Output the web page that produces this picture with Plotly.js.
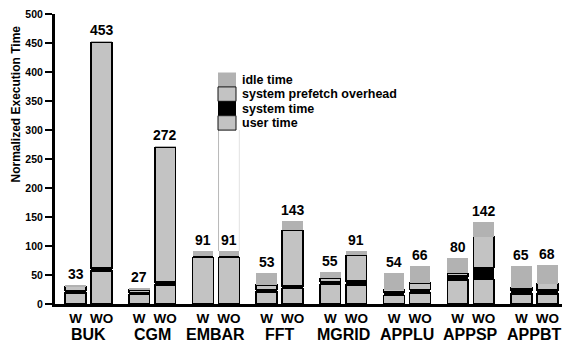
<!DOCTYPE html>
<html>
<head>
<meta charset="utf-8">
<script src="https://cdn.plot.ly/plotly-3.0.1.min.js"></script>
<style>html,body{margin:0;padding:0;background:#fff;}#chart{width:566px;height:343px;}</style>
</head>
<body>
<div id="chart"></div>
<script>
// ---- data ----
const groups = ["BUK","CGM","EMBAR","FFT","MGRID","APPLU","APPSP","APPBT"];
const variants = ["W","WO"];
// per bar, ordered BUK-W, BUK-WO, CGM-W, CGM-WO, ...
const userTime     = [19, 57, 16, 33, 80, 80, 21, 27, 34, 33, 15, 19, 41, 42, 17, 17];
const systemTime   = [ 4,  5,  4,  5,  2,  2,  4,  4,  5,  7,  6,  6,  7, 21,  7,  7];
const prefetchOver = [ 7,389,  4,232,  0,  0,  8, 96,  5, 44,  4, 11,  5, 53,  4, 11];
const idleTime     = [ 3,  2,  3,  2,  9,  9, 20, 16, 11,  7, 29, 30, 27, 26, 37, 33];
const totals       = [33,453, 27,272, 91, 91, 53,143, 55, 91, 54, 66, 80,142, 65, 68];

// ---- layout geometry ----
const GROUP_STEP = 2.45, BAR_W = 0.8;
const xs = [], tickText = [];
groups.forEach((g,i)=>variants.forEach((v,j)=>{ xs.push(i*GROUP_STEP + j); tickText.push(v); }));

const FONT = "Liberation Sans, Arial, Helvetica, sans-serif";
const fill = "#c3c3c3", idleFill = "#b2b2b2";

function barTrace(name, y, color, lineW){
  return {type:"bar", name:name, x:xs, y:y, width:BAR_W, showlegend:false,
    marker:{color:color, line:{color:"#000", width:lineW}}, hoverinfo:"skip"};
}
const traces = [
  barTrace("user time", userTime, fill, 1.5),
  barTrace("system time", systemTime, "#000", 0),
  barTrace("system prefetch overhead", prefetchOver, fill, 1.5),
  barTrace("idle time", idleTime, idleFill, 0)
];

const PL=55, PT=14, PW=507, PH=290;
const px2x = p => (p-PL)/PW, py2y = p => (PT+PH-p)/PH;

const annotations = [];
// total labels
xs.forEach((x,k)=>annotations.push({x:x, y:totals[k], xref:"x", yref:"y", text:String(totals[k]),
  showarrow:false, yanchor:"bottom", yshift:1, font:{family:FONT, size:14, weight:700, color:"#000"}}));
// group labels
groups.forEach((g,i)=>annotations.push({x:i*GROUP_STEP+0.5, y:py2y(334), xref:"x", yref:"paper", text:g,
  showarrow:false, yanchor:"middle", font:{family:FONT, size:16, weight:700, color:"#000"}}));
// y title
annotations.push({x:px2x(15), y:py2y(104.5), xref:"paper", yref:"paper", text:"Normalized Execution Time",
  textangle:-90, showarrow:false, xanchor:"center", yanchor:"middle",
  font:{family:FONT, size:12, weight:700, color:"#000"}});

// custom legend
const legendItems = [
  {name:"idle time", color:idleFill, line:0},
  {name:"system prefetch overhead", color:fill, line:1},
  {name:"system time", color:"#000", line:0},
  {name:"user time", color:fill, line:1}
];
const shapes = [];
legendItems.forEach((it,k)=>{
  const top = 72.5 + 14.4*k, bot = top + 14.4;
  shapes.push({type:"rect", xref:"paper", yref:"paper", x0:px2x(218), x1:px2x(236), y0:py2y(bot), y1:py2y(top),
    fillcolor:it.color, line:{color:"#111", width:it.line}, layer:"above"});
  annotations.push({x:px2x(240), y:py2y((top+bot)/2), xref:"paper", yref:"paper", text:it.name,
    xanchor:"left", yanchor:"middle", showarrow:false, font:{family:FONT, size:12.5, weight:700, color:"#000"}});
});
// faint column lines under legend (EMBAR WO edges)
const ew = xs[5];
shapes.push({type:"line", xref:"x", yref:"paper", x0:ew-BAR_W/2, x1:ew-BAR_W/2, y0:py2y(251), y1:py2y(130), line:{color:"#b8b8b8", width:1}, layer:"below"});
shapes.push({type:"line", xref:"x", yref:"paper", x0:ew+BAR_W/2, x1:ew+BAR_W/2, y0:py2y(251), y1:py2y(130), line:{color:"#e2e2e2", width:1}, layer:"below"});

const layout = {
  width:566, height:343,
  margin:{l:PL, r:4, t:PT, b:39},
  paper_bgcolor:"#fff", plot_bgcolor:"#fff",
  barmode:"stack", showlegend:false,
  xaxis:{range:[-0.79, 18.71], tickvals:xs, ticktext:tickText, showline:true, linewidth:3, linecolor:"#000",
    ticks:"", showgrid:false, zeroline:false, tickfont:{family:FONT, size:13.5, weight:700, color:"#000"}},
  yaxis:{range:[0,500], dtick:50, showline:true, linewidth:3, linecolor:"#000", ticks:"outside", ticklen:7,
    tickwidth:1.5, tickcolor:"#000", showgrid:false, zeroline:false,
    tickfont:{family:FONT, size:10.5, weight:700, color:"#000"}},
  annotations:annotations, shapes:shapes
};
Plotly.newPlot("chart", traces, layout, {staticPlot:true, displayModeBar:false});
</script>
</body>
</html>
